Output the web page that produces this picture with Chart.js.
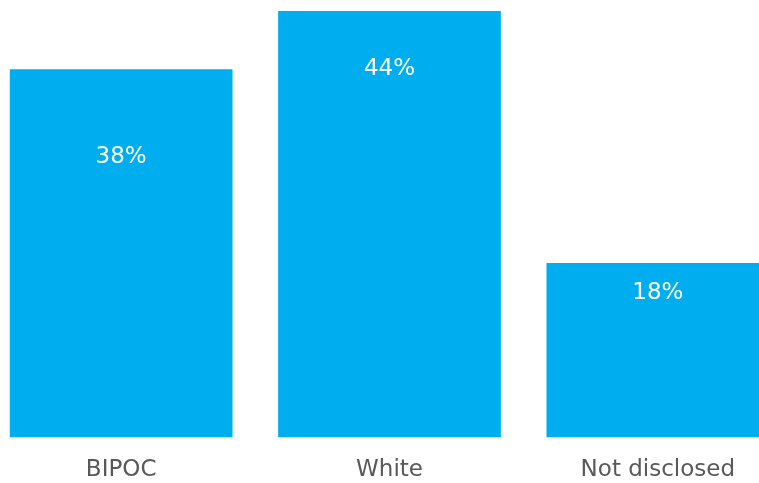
<!DOCTYPE html>
<html>
<head>
<meta charset="utf-8">
<script src="https://cdn.jsdelivr.net/npm/chart.js@4/dist/chart.umd.min.js"></script>
<style>
html,body{margin:0;padding:0;background:#fff;overflow:hidden;width:759px;height:483px;}
#wrap{position:absolute;left:-13px;top:0;width:805px;height:483px;}
</style>
</head>
<body>
<div id="wrap"><canvas id="c" width="805" height="483"></canvas></div>
<script>
const categories = ["BIPOC", "White", "Not disclosed"];
const values = [38, 44, 18];
const valueLabels = ["38%", "44%", "18%"];

const labelOffsets = [88, 58, 30];

const valueLabelPlugin = {
  id: 'valueLabels',
  afterDatasetsDraw(chart) {
    const ctx = chart.ctx;
    const meta = chart.getDatasetMeta(0);
    ctx.save();
    ctx.fillStyle = '#ffffff';
    ctx.font = '23px "DejaVu Sans"';
    ctx.textAlign = 'center';
    ctx.textBaseline = 'middle';
    meta.data.forEach((bar, i) => {
      ctx.fillText(valueLabels[i], bar.x, bar.y + labelOffsets[i]);
    });
    ctx.restore();
  }
};

new Chart(document.getElementById('c'), {
  type: 'bar',
  data: {
    labels: categories,
    datasets: [{
      data: values,
      backgroundColor: '#00AEEF',
      borderWidth: 0,
      categoryPercentage: 1,
      barPercentage: 0.83
    }]
  },
  options: {
    responsive: false,
    animation: false,
    layout: { padding: { top: 11, bottom: -20, left: 0, right: 0 } },
    plugins: { legend: { display: false }, tooltip: { enabled: false } },
    scales: {
      y: { display: false, min: 0, max: 44 },
      x: {
        grid: { display: false, drawTicks: false },
        border: { display: false },
        ticks: {
          color: '#595959',
          font: { family: '"DejaVu Sans"', size: 23 },
          padding: 19,
          maxRotation: 0
        }
      }
    }
  },
  plugins: [valueLabelPlugin]
});
</script>
</body>
</html>
